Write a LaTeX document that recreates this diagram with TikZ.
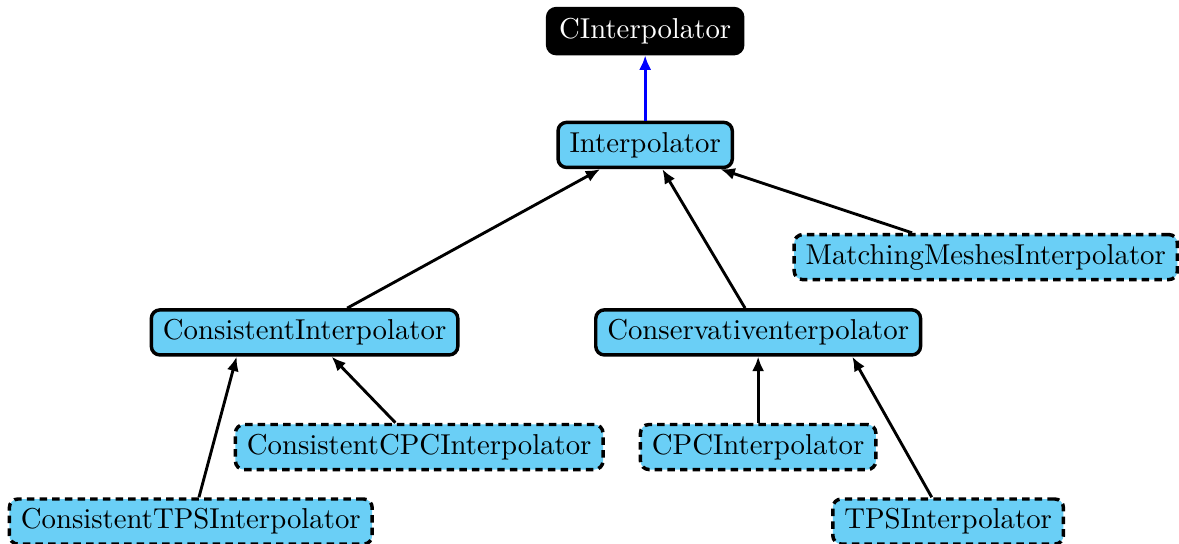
\documentclass[tikz,border=0pt]{standalone}
\usepackage{tikz}
\usetikzlibrary{arrows.meta}

\definecolor{classblue}{RGB}{106,207,246}

\tikzset{
  cls/.style={draw, line width=1.2pt, rounded corners=3pt, fill=classblue,
    inner xsep=4pt, minimum height=15.5pt, text height=7pt, text depth=2pt},
  abstractcls/.style={cls, dash pattern=on 2.6pt off 1.8pt},
  basecls/.style={cls, fill=black, text=white},
  inherit/.style={line width=1pt, -{Latex[length=5pt,width=4.2pt]}}
}

\begin{document}
\begin{tikzpicture}

      \useasboundingbox (0,0) rectangle (14.40,6.64);

      \node[basecls]     (cinterp)   at (7.88,6.26) {CInterpolator};
      \node[cls]         (interp)    at (7.88,4.87) {Interpolator};
      \node[abstractcls] (matching)  at (12.04,3.50) {MatchingMeshesInterpolator};
      \node[cls]         (consist)   at (3.72,2.58) {ConsistentInterpolator};
      \node[cls]         (conserv)   at (9.26,2.58) {Conservativenterpolator};
      \node[abstractcls] (concpc)    at (5.12,1.18) {ConsistentCPCInterpolator};
      \node[abstractcls] (cpc)       at (9.26,1.18) {CPCInterpolator};
      \node[abstractcls] (contps)    at (2.33,0.27) {ConsistentTPSInterpolator};
      \node[abstractcls] (tps)       at (11.58,0.27) {TPSInterpolator};

      \draw[inherit, blue] (interp.north) to (cinterp.south);
      \draw[inherit] ([xshift=0.52cm]consist.north) to ([xshift=-0.55cm]interp.south);
      \draw[inherit] ([xshift=-0.16cm]conserv.north) to ([xshift=0.21cm]interp.south);
      \draw[inherit] ([xshift=-0.90cm]matching.north) to ([xshift=0.92cm]interp.south);
      \draw[inherit] ([xshift=-0.29cm]concpc.north) to ([xshift=0.33cm]consist.south);
      \draw[inherit] ([xshift=0.10cm]contps.north) to ([xshift=-0.83cm]consist.south);
      \draw[inherit] (cpc.north) to (conserv.south);
      \draw[inherit] ([xshift=-0.20cm]tps.north) to ([xshift=1.15cm]conserv.south);
    \end{tikzpicture}
\end{document}
